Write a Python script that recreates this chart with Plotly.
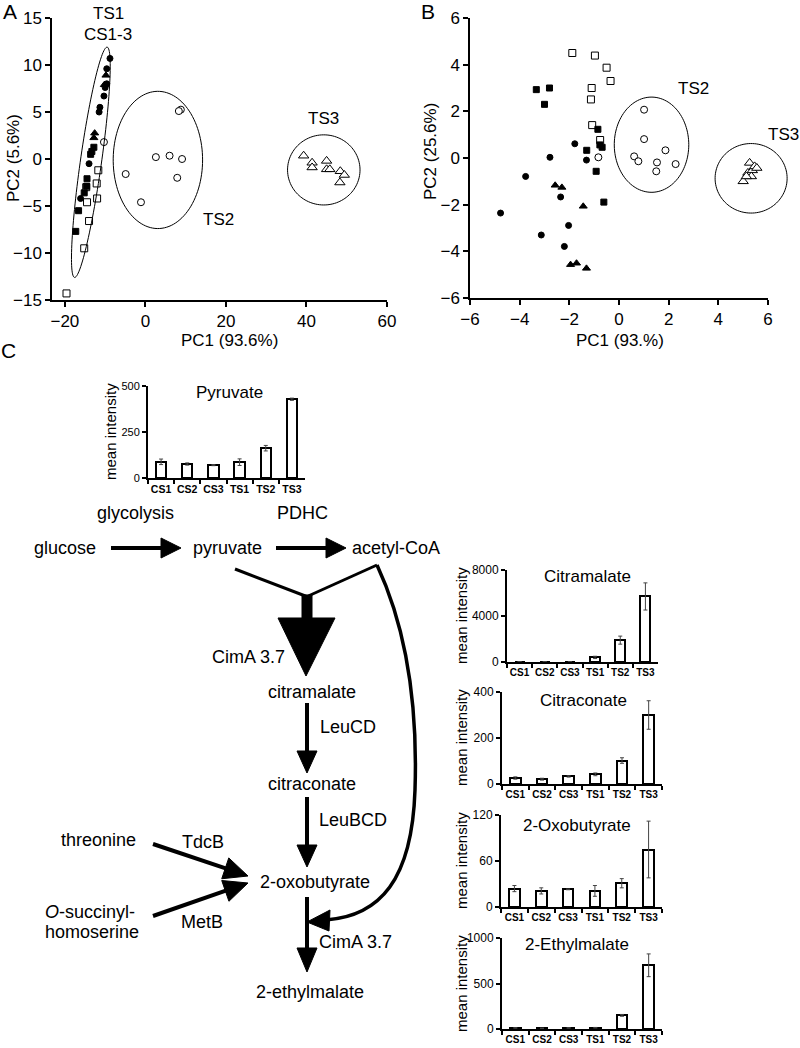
import numpy as np
import plotly.graph_objects as go

W, H = 800, 1048
FONT = "Liberation Sans, Arial, sans-serif"

# ---------------- Panel A data (PC1 93.6%, PC2 5.6%) ----------------
a_osq_x = [-19.6, -15.2, -14.0, -14.5, -12.0, -12.1, -11.7, -14.7]
a_osq_y = [-14.3, -9.5, -6.6, -4.6, -4.2, -2.6, -1.2, -3.0]
a_fsq_x = [-17.3, -16.6, -15.2, -14.6, -14.5, -13.6, -13.3, -12.8]
a_fsq_y = [-7.7, -5.5, -3.6, -2.9, -2.1, 0.5, 0.8, 1.25]
a_fci_x = [-16.1, -14.0, -11.5, -11.3, -10.3, -10.0, -9.6, -9.6, -8.8]
a_fci_y = [-4.2, -0.5, 5.0, 5.5, 6.7, 7.6, 8.0, 9.6, 10.7]
a_ftr_x = [-12.6, -12.8, -9.8, -10.2]
a_ftr_y = [2.75, 2.25, 8.9, 7.9]
a_oci_x = [-10.3, 8.8, 8.3, -4.9, -1.1, 2.6, 6.0, 9.1, 7.9]
a_oci_y = [1.8, 5.25, 5.1, -1.6, -4.6, 0.2, 0.35, 0.0, -2.0]
a_otr_x = [39.3, 41.4, 41.4, 45.0, 45.0, 45.8, 48.4, 49.4, 48.3]
a_otr_y = [0.35, -0.4, -0.9, -0.2, -1.1, -1.1, -1.3, -1.7, -2.5]

# ---------------- Panel B data (PC1 93.%, PC2 25.6%) ----------------
b_osq_x = [-1.88, -0.97, -0.50, -0.34, -1.10, -1.13, -1.08, -0.76]
b_osq_y = [4.50, 4.39, 3.87, 3.30, 3.00, 2.51, 1.41, 0.77]
b_fsq_x = [-3.33, -2.80, -3.00, -0.85, -1.30, -0.77, -0.68, -0.92, -0.61]
b_fsq_y = [2.93, 3.00, 2.30, 1.23, 0.33, 0.56, 0.46, -0.57, -1.89]
b_fci_x = [-1.78, -2.78, -1.31, -3.76, -4.77, -2.35, -2.03, -3.13, -2.20]
b_fci_y = [0.61, 0.03, -0.09, -0.79, -2.36, -1.67, -2.89, -3.30, -3.79]
b_ftr_x = [-2.57, -2.30, -1.44, -1.95, -1.71, -1.31]
b_ftr_y = [-1.17, -1.26, -2.07, -4.57, -4.51, -4.73]
b_oci_x = [-0.83, 1.01, 1.01, 0.61, 0.78, 1.53, 1.50, 1.87, 2.28]
b_oci_y = [0.03, 2.07, 0.81, 0.07, -0.14, -0.19, -0.57, 0.33, -0.26]
b_otr_x = [5.00, 5.19, 5.26, 5.37, 5.46, 5.55, 5.33, 5.13]
b_otr_y = [-1.00, -0.64, -0.21, -0.53, -0.36, -0.43, -0.79, -0.79]

# ---------------- Panel C bar data ----------------
cats = ["CS1", "CS2", "CS3", "TS1", "TS2", "TS3"]
pyr_mean = [88, 76, 70, 86, 162, 428]
pyr_err = [15, 6, 3, 18, 15, 6]
citm_mean = [30, 25, 25, 400, 1900, 5700]
citm_err = [10, 10, 10, 100, 350, 1180]
citc_mean = [26, 21, 33, 42, 102, 300]
citc_err = [5, 4, 3, 6, 12, 62]
oxo_mean = [24, 21, 23, 21, 31, 75]
oxo_err = [4, 4, 0.5, 7, 6, 37]
eth_mean = [12, 8, 12, 14, 150, 700]
eth_err = [3, 2, 3, 3, 10, 125]

# layout of the two PCA panels (pixels) and their data ranges
A_XPX, A_XR = (52, 387), (-23.2, 60)
A_YPX, A_YR = (18, 300), (-15, 15)
B_XPX, B_XR = (470, 768), (-6, 6)
B_YPX, B_YR = (18, 298), (-6, 6)


def xd(a, b):
    return [a / W, b / W]


def yd(top, bottom):
    return [1 - bottom / H, 1 - top / H]


def P(x, y):
    return x / W, 1 - y / H


fig = go.Figure()


def scat(xs, ys, sym, size, ax, filled=True):
    fig.add_trace(go.Scatter(
        x=xs, y=ys, mode="markers", xaxis=ax[0], yaxis=ax[1], cliponaxis=False,
        marker=dict(symbol=sym, size=size,
                    color="black" if filled else "white",
                    line=dict(color="black", width=1)),
        showlegend=False, hoverinfo="skip"))


for axs, d in ((("x", "y"), dict(osq=(a_osq_x, a_osq_y), fsq=(a_fsq_x, a_fsq_y),
                                  fci=(a_fci_x, a_fci_y), ftr=(a_ftr_x, a_ftr_y),
                                  oci=(a_oci_x, a_oci_y), otr=(a_otr_x, a_otr_y))),
               (("x2", "y2"), dict(osq=(b_osq_x, b_osq_y), fsq=(b_fsq_x, b_fsq_y),
                                    fci=(b_fci_x, b_fci_y), ftr=(b_ftr_x, b_ftr_y),
                                    oci=(b_oci_x, b_oci_y), otr=(b_otr_x, b_otr_y)))):
    scat(*d["osq"], "square", 7, axs, filled=False)
    scat(*d["fsq"], "square", 6, axs)
    scat(*d["fci"], "circle", 6, axs)
    scat(*d["ftr"], "triangle-up", 7, axs)
    scat(*d["oci"], "circle", 7, axs, filled=False)
    scat(*d["otr"], "triangle-up", 9, axs, filled=False)

bar_sets = [
    ("x3", "y3", pyr_mean, pyr_err),
    ("x4", "y4", citm_mean, citm_err),
    ("x5", "y5", citc_mean, citc_err),
    ("x6", "y6", oxo_mean, oxo_err),
    ("x7", "y7", eth_mean, eth_err),
]
for xa, ya, m, e in bar_sets:
    fig.add_trace(go.Bar(
        x=cats, y=m, xaxis=xa, yaxis=ya, width=0.4,
        marker=dict(color="white", line=dict(color="black", width=2)),
        error_y=dict(type="data", array=e, visible=True, color="#444",
                     thickness=1, width=2),
        showlegend=False, hoverinfo="skip"))

lay = dict(
    width=W, height=H, autosize=False,
    margin=dict(l=0, r=0, t=0, b=0, pad=0, autoexpand=False),
    paper_bgcolor="white", plot_bgcolor="white",
    font=dict(family=FONT, color="black", size=16),
    showlegend=False, bargap=0,
)

sc_common = dict(showline=True, linecolor="black", linewidth=1.5, ticks="outside",
                 ticklen=5, tickwidth=1.5, tickcolor="black", showgrid=False,
                 zeroline=False, tickfont=dict(size=17), automargin=False)
lay["xaxis"] = dict(sc_common, domain=xd(*A_XPX), range=list(A_XR),
                    tickvals=[-20, 0, 20, 40, 60], anchor="y")
lay["yaxis"] = dict(sc_common, domain=yd(*A_YPX), range=list(A_YR),
                    tickvals=[-15, -10, -5, 0, 5, 10, 15], anchor="x")
lay["xaxis2"] = dict(sc_common, domain=xd(*B_XPX), range=list(B_XR),
                     tickvals=[-6, -4, -2, 0, 2, 4, 6], anchor="y2")
lay["yaxis2"] = dict(sc_common, domain=yd(*B_YPX), range=list(B_YR),
                     tickvals=[-6, -4, -2, 0, 2, 4, 6], anchor="x2")

bar_axes = [
    (3, (148, 305), (386, 478), [0, 500], [0, 250, 500], 11, 10.5),
    (4, (507, 658), (570, 662), [0, 8000], [0, 4000, 8000], 12, 10),
    (5, (502, 662), (692, 784), [0, 400], [0, 200, 400], 12, 10),
    (6, (501, 662), (815, 907), [0, 120], [0, 60, 120], 12, 10),
    (7, (502, 662), (938, 1029), [0, 1000], [0, 500, 1000], 12, 10),
]
for i, xdom, ydom, rng, tv, yfs, xfs in bar_axes:
    lay[f"xaxis{i}"] = dict(domain=xd(*xdom), type="category", range=[-0.5, 5.5],
                            showline=True, linecolor="black", linewidth=2,
                            ticks="outside", tickson="boundaries", ticklen=4,
                            tickwidth=2, tickcolor="black", showgrid=False,
                            zeroline=False, anchor=f"y{i}", tickangle=0,
                            automargin=False,
                            tickfont=dict(size=xfs, weight="bold"))
    lay[f"yaxis{i}"] = dict(domain=yd(*ydom), range=rng, tickvals=tv,
                            showline=True, linecolor="black", linewidth=2,
                            ticks="outside", ticklen=4, tickwidth=2,
                            tickcolor="black", showgrid=False, zeroline=False,
                            anchor=f"x{i}", tickfont=dict(size=yfs),
                            automargin=False)

fig.update_layout(**lay)

# ---------------- Ellipses (data -> pixel, unclipped) ----------------
shapes = []


def d2px(x, y, xpx, xr, ypx, yr):
    px = xpx[0] + (x - xr[0]) / (xr[1] - xr[0]) * (xpx[1] - xpx[0])
    py = ypx[1] - (y - yr[0]) / (yr[1] - yr[0]) * (ypx[1] - ypx[0])
    return px, py


def ellipse(cx, cy, ax_, ay_, bx_, by_, panel):
    t = np.linspace(0, 2 * np.pi, 120)
    xs = cx + ax_ * np.cos(t) + bx_ * np.sin(t)
    ys = cy + ay_ * np.cos(t) + by_ * np.sin(t)
    pts = [P(*d2px(x, y, *panel)) for x, y in zip(xs, ys)]
    path = "M " + " L ".join(f"{x:.5f},{y:.5f}" for x, y in pts) + " Z"
    shapes.append(dict(type="path", path=path, xref="paper", yref="paper",
                       line=dict(color="black", width=1), fillcolor="rgba(0,0,0,0)"))


PA = (A_XPX, A_XR, A_YPX, A_YR)
PB = (B_XPX, B_XR, B_YPX, B_YR)
ellipse(-13.55, -0.35, 4.05, 12.25, 2.6, -0.16, PA)
ellipse(3.1, -0.1, 11.1, 0, 0, 7.3, PA)
ellipse(44.3, -1.16, 9.0, 0, 0, 3.73, PA)
ellipse(1.31, 0.57, 1.5, 0, 0, 2.04, PB)
ellipse(5.32, -0.87, 1.45, 0, 0, 1.49, PB)

# ---------------- Pathway diagram (pixel -> paper) ----------------


def line(x0, y0, x1, y1, w):
    a, b = P(x0, y0)
    c, d = P(x1, y1)
    shapes.append(dict(type="line", x0=a, y0=b, x1=c, y1=d, xref="paper", yref="paper",
                       line=dict(color="black", width=w)))


def poly(pts):
    pp = [P(x, y) for x, y in pts]
    path = "M " + " L ".join(f"{x:.5f},{y:.5f}" for x, y in pp) + " Z"
    shapes.append(dict(type="path", path=path, xref="paper", yref="paper",
                       line=dict(color="black", width=1), fillcolor="black"))


def arrow(x0, y0, x1, y1, lw=4, hl=20, hw=20):
    dx, dy = x1 - x0, y1 - y0
    L = np.hypot(dx, dy)
    ux, uy = dx / L, dy / L
    bx, by = x1 - ux * hl, y1 - uy * hl
    nx, ny = -uy, ux
    line(x0, y0, bx + ux * 2, by + uy * 2, lw)
    poly([(x1, y1), (bx + nx * hw / 2, by + ny * hw / 2), (bx - nx * hw / 2, by - ny * hw / 2)])


arrow(111, 548, 181, 548)
arrow(276, 548, 346, 548)
arrow(307, 703, 307, 773, hl=22)
arrow(307, 797, 307, 867, hl=22)
arrow(153, 844, 248, 876, hl=24, hw=22)
arrow(153, 916, 248, 883, hl=24, hw=22)
arrow(307, 897, 307, 972, hl=24)

# Y junction and big arrow
line(235, 569, 308, 597, 3)
line(377, 565, 306, 597, 3)
poly([(302, 595), (312, 595), (312, 619), (302, 619)])
poly([(278, 618), (335, 618), (306, 676)])

# curved arrow from acetyl-CoA to 2-ethylmalate step
pts = [(377, 565), (405, 625), (418, 700), (415, 790), (412, 880), (380, 916), (326, 920)]
pp = [P(x, y) for x, y in pts]
cpath = (f"M {pp[0][0]:.5f},{pp[0][1]:.5f} "
         f"C {pp[1][0]:.5f},{pp[1][1]:.5f} {pp[2][0]:.5f},{pp[2][1]:.5f} {pp[3][0]:.5f},{pp[3][1]:.5f} "
         f"C {pp[4][0]:.5f},{pp[4][1]:.5f} {pp[5][0]:.5f},{pp[5][1]:.5f} {pp[6][0]:.5f},{pp[6][1]:.5f}")
shapes.append(dict(type="path", path=cpath, xref="paper", yref="paper",
                   line=dict(color="black", width=3.5), fillcolor="rgba(0,0,0,0)"))
poly([(307, 922), (330, 910), (329, 931)])

fig.update_layout(shapes=shapes)

# ---------------- Text ----------------
ann = []


def txt(x, y, s, size=18, angle=0, xanchor="center"):
    a, b = P(x, y)
    ann.append(dict(x=a, y=b, xref="paper", yref="paper", text=s, showarrow=False,
                    xanchor=xanchor, yanchor="middle", textangle=angle,
                    font=dict(size=size, family=FONT, color="black")))


txt(10, 12, "A", 21)
txt(428, 12, "B", 21)
txt(8, 350, "C", 21)
txt(108, 13, "TS1", 17)
txt(108, 34, "CS1-3", 17)
txt(218, 220, "TS2", 17)
txt(323, 118, "TS3", 17)
txt(693, 88, "TS2", 17)
txt(783, 135, "TS3", 17)
txt(14, 158, "PC2 (5.6%)", 17, -90)
txt(430, 152, "PC2 (25.6%)", 17, -90)
txt(230, 340, "PC1 (93.6%)", 17)
txt(620, 340, "PC1 (93.%)", 17)

# bar chart labels
txt(110, 432, "mean intensity", 15, -90)
txt(230, 392, "Pyruvate", 17)
txt(461, 616, "mean intensity", 15, -90)
txt(461, 738, "mean intensity", 15, -90)
txt(461, 861, "mean intensity", 15, -90)
txt(461, 984, "mean intensity", 15, -90)
txt(587, 576, "Citramalate", 17)
txt(583, 700, "Citraconate", 17)
txt(577, 825, "2-Oxobutyrate", 17)
txt(577, 944, "2-Ethylmalate", 17)

# pathway labels
txt(135, 513, "glycolysis")
txt(302, 513, "PDHC")
txt(65, 548, "glucose")
txt(228, 548, "pyruvate")
txt(396, 548, "acetyl-CoA")
txt(248, 657, "CimA 3.7")
txt(312, 692, "citramalate")
txt(348, 727, "LeuCD")
txt(312, 784, "citraconate")
txt(353, 820, "LeuBCD")
txt(315, 882, "2-oxobutyrate")
txt(98, 840, "threonine")
txt(203, 842, "TdcB")
txt(90, 912, "<i>O</i>-succinyl-")
txt(92, 932, "homoserine")
txt(202, 922, "MetB")
txt(355, 942, "CimA 3.7")
txt(310, 992, "2-ethylmalate")

fig.update_layout(annotations=ann)

fig.write_html("out.html", config={"displayModeBar": False},
               post_script="document.body.style.margin='0';document.body.style.overflow='hidden';")
